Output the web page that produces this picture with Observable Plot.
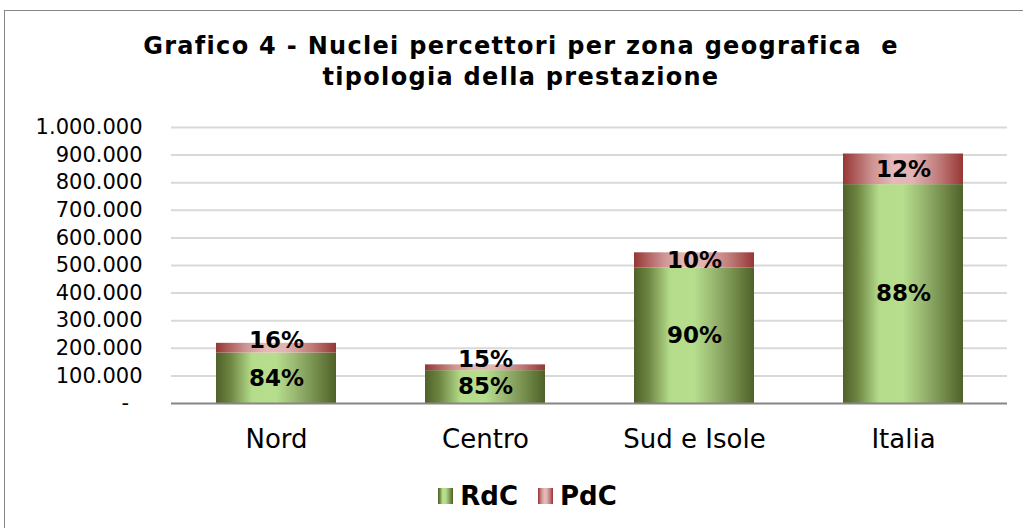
<!DOCTYPE html>
<html><head><meta charset="utf-8">
<script src="https://cdn.jsdelivr.net/npm/d3@7"></script>
<script src="https://cdn.jsdelivr.net/npm/@observablehq/plot@0.6"></script>
<style>
body{margin:0;background:#fff;font-family:"DejaVu Sans",Verdana,sans-serif;width:1023px;height:528px;overflow:hidden;position:relative;}
#frame{position:absolute;left:4px;top:10px;width:1060px;height:600px;border:1px solid #868686;box-sizing:border-box;}
#title{position:absolute;left:10px;width:1022px;top:31px;text-align:center;font-weight:bold;font-size:24px;letter-spacing:1.3px;line-height:31px;color:#000;}
#chart{position:absolute;left:0;top:110px;}
#legend{position:absolute;top:481px;left:16px;width:1023px;display:flex;justify-content:center;align-items:center;font-weight:bold;font-size:26px;color:#000;}
.item{display:flex;align-items:center;margin:0 10px;}
.sw{width:15px;height:16px;margin-right:7px;}
</style></head>
<body>
<div id="frame"></div>
<div id="title">Grafico 4 - Nuclei percettori per zona geografica&nbsp; e<br>tipologia della prestazione</div>
<div id="chart"></div>
<div id="legend"></div>
<script>
const zone = ["Nord", "Centro", "Sud e Isole", "Italia"];
const series = ["RdC", "PdC"];
const rdc = [183000, 119000, 491000, 793000];
const pdc = [35000, 21000, 55000, 111000];
const yTicks = [0, 100000, 200000, 300000, 400000, 500000, 600000, 700000, 800000, 900000, 1000000];

const gradStops = {
  RdC: [[0, "#4f6128"], [0.12, "#6d8541"], [0.3, "#b4dc8b"], [0.5, "#b6de8d"], [0.66, "#9ab872"], [0.8, "#7b9553"], [1, "#4f6128"]],
  PdC: [[0, "#953735"], [0.25, "#cf9594"], [0.42, "#e6b9b8"], [0.58, "#e2b3b2"], [0.8, "#c07b79"], [1, "#953735"]]
};

const rows = [];
zone.forEach((z, i) => {
  const tot = rdc[i] + pdc[i];
  rows.push({zona: z, serie: "RdC", valore: rdc[i], quota: Math.round(100 * rdc[i] / tot)});
  rows.push({zona: z, serie: "PdC", valore: pdc[i], quota: Math.round(100 * pdc[i] / tot)});
});
const small = d => d.valore < 40000;
const itFmt = d3.formatLocale({decimal: ",", thousands: ".", grouping: [3], currency: ["€", ""]}).format(",d");

const plot = Plot.plot({
  width: 1023, height: 360,
  marginLeft: 171, marginRight: 16, marginTop: 17, marginBottom: 67,
  style: {fontFamily: "'DejaVu Sans', Verdana, sans-serif", background: "transparent", color: "#000", overflow: "visible"},
  x: {domain: zone, paddingInner: 0.426, paddingOuter: 0.213, label: null},
  y: {domain: [0, 1000000], label: null},
  color: {domain: series, range: series.map(s => `url(#g${s})`)},
  marks: [
    Plot.gridY(yTicks.filter(d => d > 0), {stroke: "#d9d9d9", strokeOpacity: 1, strokeWidth: 2}),
    Plot.barY(rows, {x: "zona", y: "valore", fill: "serie", order: series}),
    Plot.ruleY([0], {stroke: "#868686", strokeWidth: 2}),
    Plot.axisY({ticks: yTicks, tickSize: 0, tickPadding: 29, fontSize: 21, tickFormat: d => d === 0 ? "-\u00a0\u00a0" : itFmt(d)}),
    Plot.axisX({tickSize: 0, tickPadding: 26, fontSize: 26, style: {letterSpacing: "0.8px"}}),
    Plot.text(rows, Plot.stackY({x: "zona", y: "valore", z: "serie", order: series, text: d => small(d) ? "" : d.quota + "%", fontSize: 23, fontWeight: "bold", fill: "#000"})),
    Plot.text(rows, Plot.stackY({x: "zona", y: "valore", z: "serie", order: series, text: d => small(d) ? d.quota + "%" : "", dy: -8, fontSize: 23, fontWeight: "bold", fill: "#000"}))
  ]
});

const ns = "http://www.w3.org/2000/svg";
const defs = document.createElementNS(ns, "defs");
for (const s of series) {
  const g = document.createElementNS(ns, "linearGradient");
  g.setAttribute("id", "g" + s);
  g.setAttribute("x1", "0"); g.setAttribute("x2", "1"); g.setAttribute("y1", "0"); g.setAttribute("y2", "0");
  for (const [o, c] of gradStops[s]) {
    const st = document.createElementNS(ns, "stop");
    st.setAttribute("offset", o); st.setAttribute("stop-color", c);
    g.appendChild(st);
  }
  defs.appendChild(g);
}
plot.insertBefore(defs, plot.firstChild);
document.getElementById("chart").appendChild(plot);

const legend = document.getElementById("legend");
for (const s of series) {
  const it = document.createElement("div"); it.className = "item";
  const sw = document.createElement("div"); sw.className = "sw";
  sw.style.background = "linear-gradient(to right," + gradStops[s].map(([o, c]) => `${c} ${o * 100}%`).join(",") + ")";
  const tx = document.createElement("span"); tx.textContent = s;
  it.appendChild(sw); it.appendChild(tx); legend.appendChild(it);
}
</script>
</body></html>
